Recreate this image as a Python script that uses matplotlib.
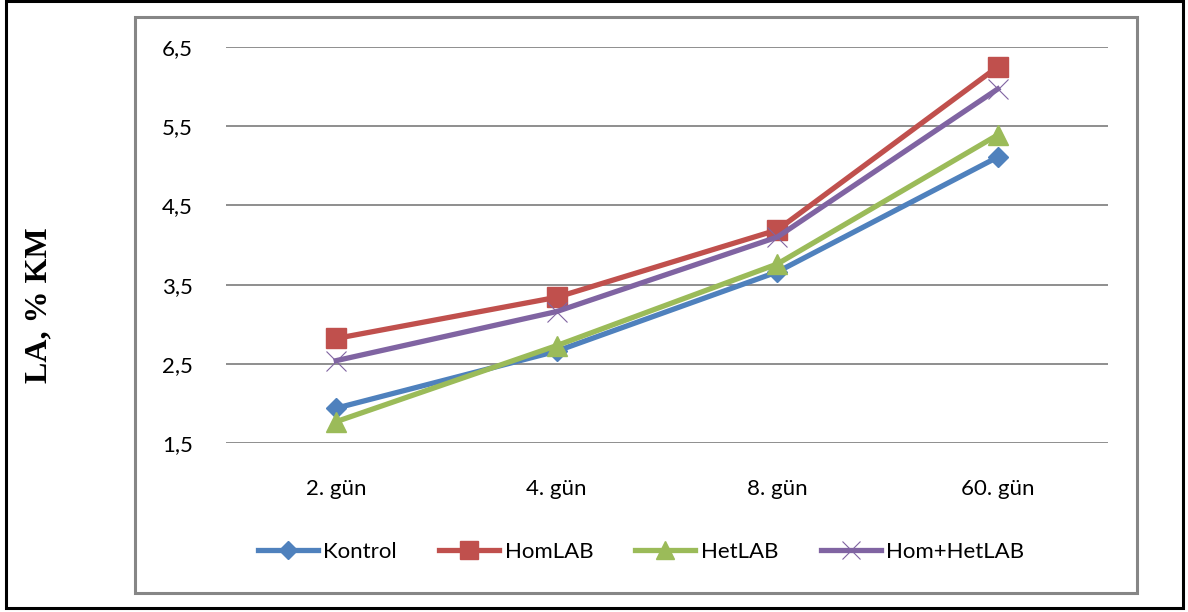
import matplotlib.pyplot as plt
from matplotlib.patches import Rectangle

categories = ['2. gün', '4. gün', '8. gün', '60. gün']
kontrol = [1.94, 2.66, 3.66, 5.11]
homlab = [2.82, 3.34, 4.19, 6.25]
hetlab = [1.77, 2.73, 3.76, 5.39]
hom_hetlab = [2.54, 3.16, 4.10, 5.97]
yticks = [1.5, 2.5, 3.5, 4.5, 5.5, 6.5]

series = [
    ('Kontrol', kontrol, '#4F81BD', 'D', 10),
    ('HomLAB', homlab, '#C0504D', 's', 14),
    ('HetLAB', hetlab, '#9BBB59', '^', 14),
    ('Hom+HetLAB', hom_hetlab, '#8064A2', 'x', 15),
]

W, H = 1188, 612
fig = plt.figure(figsize=(W / 100, H / 100), dpi=100)
ax = fig.add_axes([226 / W, 1 - 443 / H, (1108 - 226) / W, (443 - 47) / H])

x = list(range(len(categories)))
for name, vals, col, mk, ms in series:
    mew = 0.8 if mk == 'x' else 1.0
    ax.plot(x, vals, color=col, lw=3.8, marker=mk, ms=ms, mew=mew,
            mec=col, label=name, zorder=3)

ax.set_xlim(-0.5, 3.5)
ax.set_ylim(1.5, 6.5)
ax.set_yticks(yticks)
ax.set_yticklabels([f'{v:.1f}'.replace('.', ',') for v in yticks])
ax.set_xticks(x)
ax.set_xticklabels(categories)
ax.tick_params(axis='both', length=0, labelsize=16, colors='black')
ax.tick_params(axis='y', pad=24)
ax.tick_params(axis='x', pad=26)
for lab in ax.get_xticklabels() + ax.get_yticklabels():
    lab.set_fontfamily('Lato')
ax.grid(axis='y', color='#868686', lw=1.3)
ax.set_axisbelow(True)
for s in ax.spines.values():
    s.set_visible(False)

fig.text(39 / W, 1 - 305 / H, 'LA, % KM', rotation=90, ha='center', va='center',
         fontsize=23, fontweight='bold', family='Liberation Serif')

leg = fig.legend(loc='center', bbox_to_anchor=(641 / W, 1 - 552 / H), ncol=4,
                 frameon=False, prop={'family': 'Lato', 'size': 16},
                 handlelength=2.7, handletextpad=0.25, columnspacing=1.9,
                 markerscale=0.9)

fig.patches.append(Rectangle((135 / W, 1 - 593 / H), (1137 - 135) / W, (593 - 17) / H,
                             transform=fig.transFigure, fill=False,
                             edgecolor='#868686', lw=2.2))
fig.patches.append(Rectangle((6 / W, 1 - 608 / H), (1183 - 6) / W, (608 - 1) / H,
                             transform=fig.transFigure, fill=False,
                             edgecolor='black', lw=2.2))

fig.savefig('out.png', dpi=100)
